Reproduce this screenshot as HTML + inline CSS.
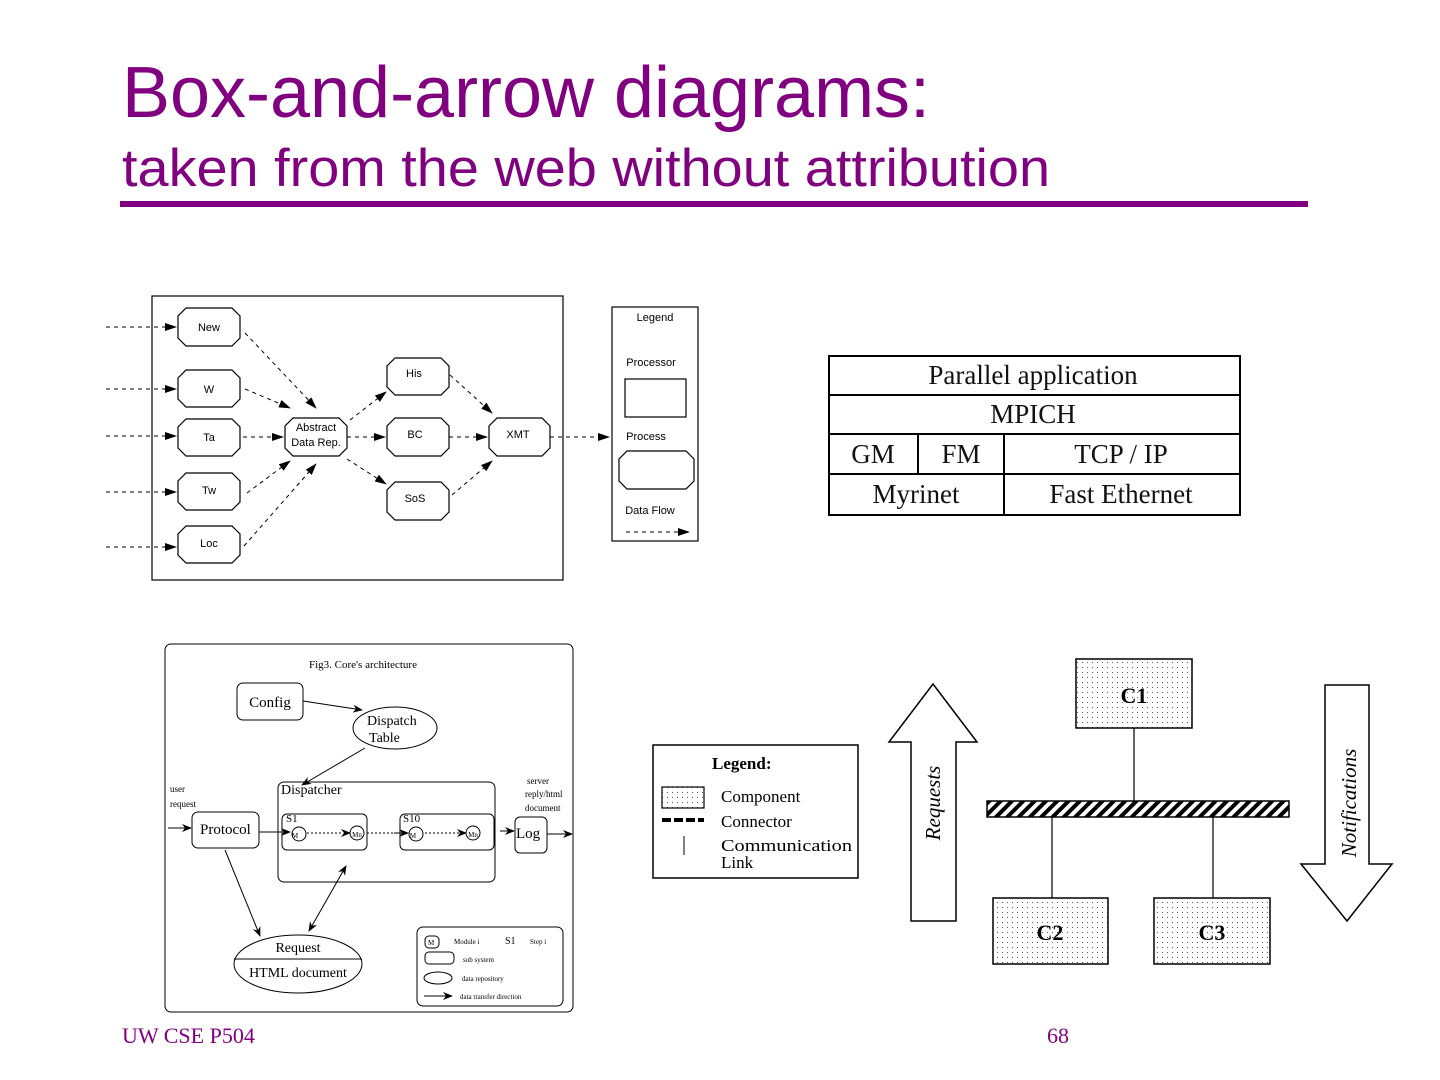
<!DOCTYPE html>
<html><head><meta charset="utf-8"><style>
html,body{margin:0;padding:0;background:#fff;}
svg{display:block;}
</style></head><body>
<svg width="1440" height="1080" viewBox="0 0 1440 1080" xmlns="http://www.w3.org/2000/svg" font-family="Liberation Sans, sans-serif">
<defs>
<marker id="ah" markerWidth="10" markerHeight="8" refX="9" refY="4" orient="auto" markerUnits="userSpaceOnUse"><path d="M0,0 L10,4 L0,8 L3,4 Z" fill="#000"/></marker>
<marker id="ahb" markerWidth="10" markerHeight="8" refX="9" refY="4" orient="auto-start-reverse" markerUnits="userSpaceOnUse"><path d="M0,0 L10,4 L0,8 L3,4 Z" fill="#000"/></marker>
<marker id="ah2" markerWidth="12" markerHeight="8" refX="11" refY="4" orient="auto" markerUnits="userSpaceOnUse"><path d="M0,0 L12,4 L0,8 Z" fill="#000"/></marker>
<pattern id="dots" width="5" height="5" patternUnits="userSpaceOnUse"><rect width="5" height="5" fill="#fff"/><rect x="2" y="2" width="1" height="1" fill="#555"/></pattern>
<pattern id="hatch" width="8" height="8" patternUnits="userSpaceOnUse" patternTransform="rotate(45)"><rect width="8" height="8" fill="#fff"/><rect width="4" height="8" fill="#000"/></pattern>
</defs>

<!-- Title -->
<text x="122" y="117" font-size="72" fill="#800080" textLength="808" lengthAdjust="spacingAndGlyphs">Box-and-arrow diagrams:</text>
<text x="122" y="186" font-size="53" fill="#800080" textLength="928" lengthAdjust="spacingAndGlyphs">taken from the web without attribution</text>
<rect x="120" y="201" width="1188" height="6" fill="#800080"/>

<!-- Diagram 1 -->
<g stroke="#000" fill="none" stroke-width="1.2">
<rect x="152" y="296" width="411" height="284"/>
<rect x="612" y="307" width="86" height="234"/>
<rect x="625" y="379" width="61" height="38"/>
</g>
<g stroke="#000" fill="#fff" stroke-width="1.2">
<polygon points="186,308 232,308 240,316 240,338 232,346 186,346 178,338 178,316"/>
<polygon points="186,370 232,370 240,378 240,399 232,407 186,407 178,399 178,378"/>
<polygon points="186,419 232,419 240,427 240,448 232,456 186,456 178,448 178,427"/>
<polygon points="186,473 232,473 240,481 240,502 232,510 186,510 178,502 178,481"/>
<polygon points="186,526 232,526 240,534 240,555 232,563 186,563 178,555 178,534"/>
<polygon points="293,418 339,418 347,426 347,448 339,456 293,456 285,448 285,426"/>
<polygon points="395,358 441,358 449,366 449,387 441,395 395,395 387,387 387,366"/>
<polygon points="395,418 441,418 449,426 449,448 441,456 395,456 387,448 387,426"/>
<polygon points="395,482 441,482 449,490 449,512 441,520 395,520 387,512 387,490"/>
<polygon points="497,418 542,418 550,426 550,448 542,456 497,456 489,448 489,426"/>
<polygon points="627,451 686,451 694,459 694,481 686,489 627,489 619,481 619,459"/>
</g>
<g stroke="#000" stroke-width="1" stroke-dasharray="4,4" fill="none" marker-end="url(#ah2)">
<line x1="106" y1="327" x2="176" y2="327"/>
<line x1="106" y1="389" x2="176" y2="389"/>
<line x1="106" y1="436" x2="176" y2="436"/>
<line x1="106" y1="492" x2="176" y2="492"/>
<line x1="106" y1="547" x2="176" y2="547"/>
<line x1="245" y1="333" x2="316" y2="408"/>
<line x1="245" y1="389" x2="290" y2="408"/>
<line x1="243" y1="437" x2="283" y2="437"/>
<line x1="247" y1="493" x2="290" y2="461"/>
<line x1="244" y1="546" x2="316" y2="464"/>
<line x1="350" y1="420" x2="386" y2="392"/>
<line x1="347" y1="437" x2="385" y2="437"/>
<line x1="347" y1="459" x2="386" y2="484"/>
<line x1="450" y1="375" x2="492" y2="413"/>
<line x1="449" y1="437" x2="487" y2="437"/>
<line x1="452" y1="495" x2="492" y2="461"/>
<line x1="550" y1="437" x2="609" y2="437"/>
<line x1="626" y1="532" x2="689" y2="532"/>
</g>
<g font-size="11" fill="#000" text-anchor="middle">
<text x="209" y="331">New</text>
<text x="209" y="393">W</text>
<text x="209" y="441">Ta</text>
<text x="209" y="494">Tw</text>
<text x="209" y="547">Loc</text>
<text x="316" y="431">Abstract</text>
<text x="316" y="446">Data Rep.</text>
<text x="414" y="377">His</text>
<text x="415" y="438">BC</text>
<text x="415" y="502">SoS</text>
<text x="518" y="438">XMT</text>
<text x="655" y="321">Legend</text>
<text x="651" y="366">Processor</text>
<text x="646" y="440">Process</text>
<text x="650" y="514">Data Flow</text>
</g>

<!-- Diagram 3: table -->
<g stroke="#000" stroke-width="2" fill="none">
<rect x="829" y="356" width="411" height="159"/>
<line x1="829" y1="395" x2="1240" y2="395"/>
<line x1="829" y1="434" x2="1240" y2="434"/>
<line x1="829" y1="474" x2="1240" y2="474"/>
<line x1="918" y1="434" x2="918" y2="474"/>
<line x1="1004" y1="434" x2="1004" y2="515"/>
</g>
<g font-family="Liberation Serif, serif" font-size="27" fill="#111" text-anchor="middle">
<text x="1033" y="384">Parallel application</text>
<text x="1033" y="423">MPICH</text>
<text x="873" y="463">GM</text>
<text x="961" y="463">FM</text>
<text x="1121" y="463">TCP / IP</text>
<text x="916" y="503">Myrinet</text>
<text x="1121" y="503">Fast Ethernet</text>
</g>

<!-- Diagram 2 -->
<g stroke="#000" fill="none" stroke-width="1">
<rect x="165" y="644" width="408" height="368" rx="6"/>
<rect x="237" y="683" width="66" height="37" rx="6"/>
<ellipse cx="395" cy="728" rx="42" ry="21"/>
<rect x="278" y="782" width="217" height="100" rx="6"/>
<rect x="192" y="812" width="67" height="36" rx="6"/>
<rect x="282" y="814" width="85" height="36" rx="5"/>
<rect x="400" y="814" width="94" height="36" rx="5"/>
<rect x="515" y="817" width="32" height="36" rx="5"/>
<ellipse cx="298" cy="964" rx="64" ry="29"/>
<line x1="234" y1="959" x2="362" y2="959"/>
<rect x="417" y="927" width="146" height="79" rx="6"/>
<circle cx="299" cy="834" r="7"/><circle cx="357" cy="833" r="7"/>
<circle cx="416" cy="834" r="7"/><circle cx="473" cy="833" r="7"/>
<rect x="425" y="936" width="14" height="12" rx="4"/>
<rect x="425" y="952" width="29" height="12" rx="4"/>
<ellipse cx="438" cy="978" rx="14" ry="6"/>
</g>
<g stroke="#000" stroke-width="1" fill="none" marker-end="url(#ah)">
<line x1="303" y1="701" x2="362" y2="710"/>
<line x1="365" y1="748" x2="302" y2="785"/>
<line x1="168" y1="828" x2="191" y2="828"/>
<line x1="259" y1="832" x2="290" y2="832"/>
<line x1="344" y1="833" x2="350" y2="833"/>
<line x1="394" y1="833" x2="408" y2="833"/>
<line x1="462" y1="833" x2="466" y2="833"/>
<line x1="500" y1="831" x2="514" y2="831"/>
<line x1="547" y1="834" x2="572" y2="834"/>
<line x1="225" y1="850" x2="260" y2="936"/>
<line x1="424" y1="996" x2="452" y2="996"/>
</g>
<line x1="309" y1="931" x2="346" y2="866" stroke="#000" stroke-width="1" marker-start="url(#ahb)" marker-end="url(#ahb)"/>
<g stroke="#000" stroke-dasharray="2,2" stroke-width="1">
<line x1="307" y1="833" x2="343" y2="833"/>
<line x1="425" y1="833" x2="462" y2="833"/>
<line x1="367" y1="833" x2="400" y2="833"/>
</g>
<g font-family="Liberation Serif, serif" fill="#000">
<text x="363" y="668" font-size="11" text-anchor="middle">Fig3. Core's architecture</text>
<text x="270" y="707" font-size="15" text-anchor="middle">Config</text>
<text x="367" y="725" font-size="14">Dispatch</text>
<text x="369" y="742" font-size="14">Table</text>
<text x="281" y="794" font-size="14">Dispatcher</text>
<text x="200" y="834" font-size="15">Protocol</text>
<text x="286" y="822" font-size="11">S1</text>
<text x="403" y="822" font-size="11">S10</text>
<text x="516" y="838" font-size="15">Log</text>
<text x="170" y="792" font-size="9">user</text>
<text x="170" y="807" font-size="9">request</text>
<text x="527" y="784" font-size="9">server</text>
<text x="525" y="797" font-size="9">reply/html</text>
<text x="525" y="811" font-size="9">document</text>
<text x="298" y="952" font-size="14" text-anchor="middle">Request</text>
<text x="298" y="977" font-size="14" text-anchor="middle">HTML document</text>
<g font-size="7">
<text x="295" y="838" text-anchor="middle">M</text><text x="357" y="837" text-anchor="middle">Mn</text>
<text x="413" y="838" text-anchor="middle">M</text><text x="473" y="837" text-anchor="middle">Mn</text>
<text x="428" y="945">M</text>
<text x="454" y="944">Module i</text>
<text x="530" y="944">Step i</text>
<text x="463" y="962">sub system</text>
<text x="462" y="981">data repository</text>
<text x="460" y="999">data transfer direction</text>
</g>
<text x="505" y="944" font-size="10">S1</text>
</g>

<!-- Diagram 4 -->
<rect x="653" y="745" width="205" height="133" fill="none" stroke="#000" stroke-width="1.5"/>
<rect x="662" y="787" width="42" height="21" fill="url(#dots)" stroke="#000" stroke-width="1.2"/>
<line x1="662" y1="820" x2="704" y2="820" stroke="#000" stroke-width="4" stroke-dasharray="9,3"/>
<line x1="684" y1="836" x2="684" y2="855" stroke="#000" stroke-width="1"/>
<g font-family="Liberation Serif, serif" fill="#000">
<text x="712" y="769" font-size="17" font-weight="bold">Legend:</text>
<text x="721" y="802" font-size="17">Component</text>
<text x="721" y="827" font-size="17">Connector</text>
<text x="721" y="851" font-size="17" textLength="131" lengthAdjust="spacingAndGlyphs">Communication</text>
<text x="721" y="868" font-size="17">Link</text>
</g>
<rect x="1076" y="659" width="116" height="69" fill="url(#dots)" stroke="#000" stroke-width="1.5"/>
<rect x="993" y="898" width="115" height="66" fill="url(#dots)" stroke="#000" stroke-width="1.5"/>
<rect x="1154" y="898" width="116" height="66" fill="url(#dots)" stroke="#000" stroke-width="1.5"/>
<rect x="987" y="801" width="302" height="16" fill="url(#hatch)" stroke="#000" stroke-width="1.5"/>
<g stroke="#000" stroke-width="1.2">
<line x1="1134" y1="728" x2="1134" y2="801"/>
<line x1="1052" y1="817" x2="1052" y2="898"/>
<line x1="1213" y1="817" x2="1213" y2="898"/>
</g>
<polygon points="933,684 977,742 956,742 956,921 911,921 911,742 889,742" fill="#fff" stroke="#000" stroke-width="1.5"/>
<polygon points="1325,685 1369,685 1369,864 1392,864 1347,921 1301,864 1325,864" fill="#fff" stroke="#000" stroke-width="1.5"/>
<g font-family="Liberation Serif, serif" fill="#000">
<text x="1134" y="703" font-size="22" font-weight="bold" text-anchor="middle">C1</text>
<text x="1050" y="940" font-size="22" font-weight="bold" text-anchor="middle">C2</text>
<text x="1212" y="940" font-size="22" font-weight="bold" text-anchor="middle">C3</text>
<text transform="translate(940,803) rotate(-90)" font-size="21" font-style="italic" text-anchor="middle">Requests</text>
<text transform="translate(1356,803) rotate(-90)" font-size="21" font-style="italic" text-anchor="middle">Notifications</text>
</g>

<!-- Footer -->
<text x="122" y="1043" font-family="Liberation Serif, serif" font-size="22" fill="#800080">UW CSE P504</text>
<text x="1047" y="1043" font-family="Liberation Serif, serif" font-size="22" fill="#800080">68</text>
</svg>
</body></html>
